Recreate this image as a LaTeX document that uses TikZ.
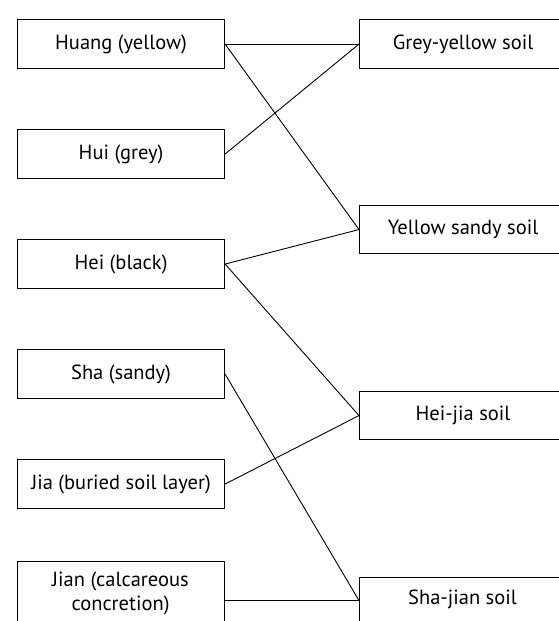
\documentclass[tikz,border=0pt]{standalone}
\usepackage{fontspec}
\setmainfont{PT Sans}
\begin{document}
\begin{tikzpicture}[x=1pt,y=-1pt,
  txt/.style={align=center, inner sep=0pt, font=\fontsize{20.5}{24}\selectfont},
  box/.style={draw, line width=1.1pt, rectangle, anchor=north west, minimum width=207pt, minimum height=49pt, inner sep=0pt, txt},
  link/.style={draw, line width=0.9pt}]
\useasboundingbox (0,0) rectangle (559,621);
\clip (0,0) rectangle (559,621);
\fill[white] (0,0) rectangle (559,621);
% left column
\node[box] (huang) at (17,19) {Huang (yellow)};
\node[box] (hui) at (17,129) {Hui (grey)};
\node[box] (hei) at (17,239) {Hei (black)};
\node[box] (sha) at (17,349) {Sha (sandy)};
\node[box] (jia) at (17,459) {Jia (buried soil layer)};
\node[box, minimum height=78pt] (jian) at (17,561) {};
\node[txt] (jiantext) at (120.5,593) {Jian (calcareous\\concretion)};
% right column
\node[box] (gy) at (359,19) {Grey-yellow soil};
\node[box, minimum height=48pt] (ys) at (359,205) {Yellow sandy soil};
\node[box, minimum height=48pt] (hj) at (359,391) {Hei-jia soil};
\node[box, minimum height=46pt] (sj) at (359,577) {};
\node[txt] (sjtext) at (462.5,599) {Sha-jian soil};
% links
\draw[link] (huang.east) -- (gy.west);
\draw[link] (huang.east) -- (ys.west);
\draw[link] (hui.east) -- (gy.west);
\draw[link] (hei.east) -- (ys.west);
\draw[link] (hei.east) -- (hj.west);
\draw[link] (sha.east) -- (sj.west);
\draw[link] (jia.east) -- (hj.west);
\draw[link] (jian.east) -- (sj.west);
\end{tikzpicture}
\end{document}
